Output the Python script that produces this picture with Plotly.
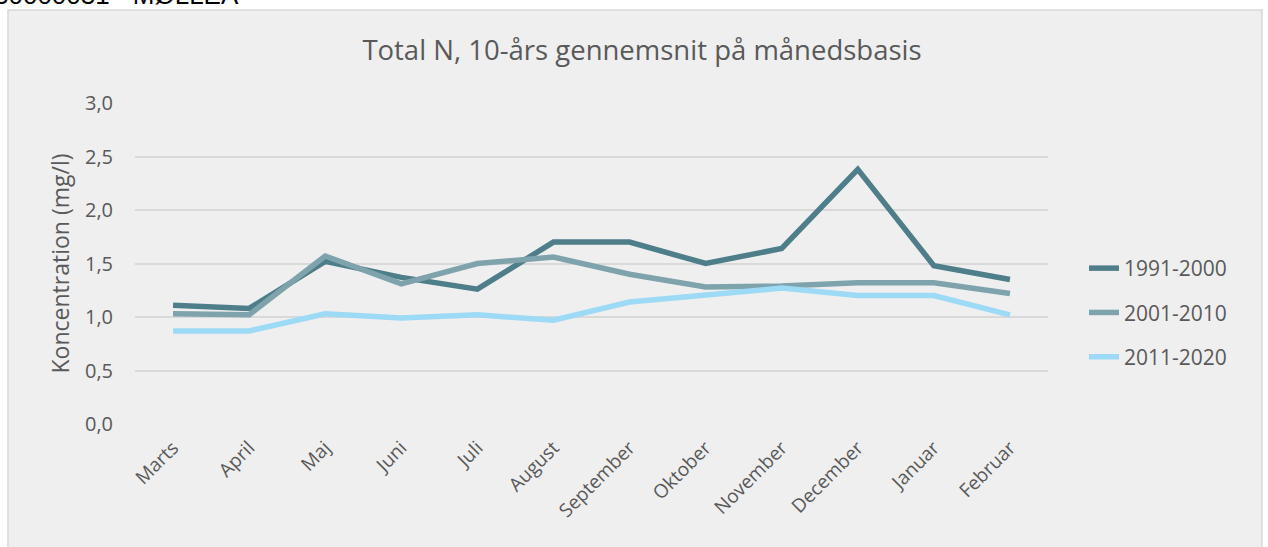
import plotly.graph_objects as go

months = ["Marts", "April", "Maj", "Juni", "Juli", "August", "September",
          "Oktober", "November", "December", "Januar", "Februar"]
s_1991_2000 = [1.11, 1.08, 1.52, 1.37, 1.26, 1.70, 1.70, 1.50, 1.64, 2.38, 1.48, 1.35]
s_2001_2010 = [1.03, 1.02, 1.57, 1.31, 1.50, 1.56, 1.40, 1.28, 1.29, 1.32, 1.32, 1.22]
s_2011_2020 = [0.87, 0.87, 1.03, 0.99, 1.02, 0.97, 1.14, 1.20, 1.27, 1.20, 1.20, 1.02]
series_names = ["1991-2000", "2001-2010", "2011-2020"]
colors = ["#4E7E8A", "#7FA3AC", "#9DDAF5"]

W, H = 1268, 547
L, R, T, B = 135, 220, 103, 123
pw, ph = W - L - R, H - T - B

font = "Open Sans"
txt = "#595959"

fig = go.Figure()
for name, vals, c in zip(series_names, [s_1991_2000, s_2001_2010, s_2011_2020], colors):
    fig.add_trace(go.Scatter(x=months, y=vals, name=name, mode="lines",
                             line=dict(color=c, width=5.5), legendgroup=name))

fig.update_layout(
    width=W, height=H,
    margin=dict(l=L, r=R, t=T, b=B, autoexpand=False),
    paper_bgcolor="white",
    plot_bgcolor="rgba(0,0,0,0)",
    separators=",.",
    font=dict(family=font, color=txt, size=16),
    title=dict(text="Total N, 10-års gennemsnit på månedsbasis",
               x=642 / W, xanchor="center", y=1 - 50 / H, yanchor="middle",
               font=dict(size=27.5, color=txt, family=font)),
    xaxis=dict(showgrid=False, showline=False, zeroline=False, tickangle=-45,
               range=[-0.5, 11.5], ticklabelstandoff=8,
               tickfont=dict(size=19, color=txt), ticks=""),
    yaxis=dict(range=[0, 3.0], dtick=0.5, tickformat=".1f", showgrid=True,
               gridcolor="#D9D9D9", gridwidth=1.5, zeroline=False, showline=False,
               tickfont=dict(size=20, color=txt), ticklabelstandoff=21,
               title=dict(text="Koncentration (mg/l)", font=dict(size=23, color=txt), standoff=8)),
    legend=dict(x=(1084 - L) / pw, xanchor="left", y=1 - (248 - T) / ph, yanchor="top",
                font=dict(size=21, color=txt), tracegroupgap=14, bgcolor="rgba(0,0,0,0)"),
    shapes=[dict(type="rect", xref="paper", yref="paper", layer="below",
                 x0=(8 - L) / pw, x1=(1262 - L) / pw,
                 y0=-(B + 20) / ph, y1=(H - B - 10) / ph,
                 fillcolor="#EFEFEF", line=dict(color="#D9D9D9", width=1.5))],
    annotations=[dict(text="30000031 - MØLLEÅ", xref="paper", yref="paper",
                      x=(-8 - L) / pw, xanchor="left",
                      y=1 + (T - 12) / ph, yanchor="bottom", showarrow=False,
                      font=dict(family="Liberation Sans", size=26, color="black"))],
)

fig.write_html("out.html", config={"displayModeBar": False},
               post_script="document.body.style.margin='0';")
